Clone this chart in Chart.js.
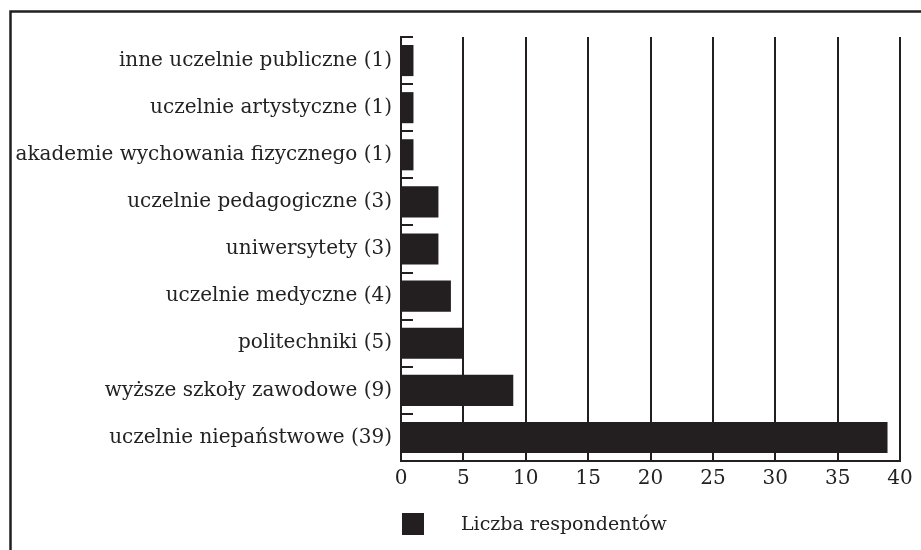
<!DOCTYPE html>
<html>
<head>
<meta charset="utf-8">
<script src="https://cdn.jsdelivr.net/npm/chart.js@4/dist/chart.umd.min.js"></script>
<style>
  html, body { margin: 0; padding: 0; background: #fff; }
  #wrap { width: 921px; height: 550px; position: relative; }
</style>
</head>
<body>
<div id="wrap"><canvas id="myChart" width="921" height="550"></canvas></div>
<script>
var kategorie = [
    'inne uczelnie publiczne (1)',
    'uczelnie artystyczne (1)',
    'akademie wychowania fizycznego (1)',
    'uczelnie pedagogiczne (3)',
    'uniwersytety (3)',
    'uczelnie medyczne (4)',
    'politechniki (5)',
    'wyższe szkoły zawodowe (9)',
    'uczelnie niepaństwowe (39)'
];
var liczba = [1, 1, 1, 3, 3, 4, 5, 9, 39];
var nazwaSerii = 'Liczba respondentów';

var ink = '#231f20';
var font = { family: '"DejaVu Serif", serif', size: 20 };

// ramka wokół całego wykresu + znaczniki osi Y do środka + legenda
var dodatki = {
    id: 'dodatki',
    beforeDraw: function (chart) {
        var c = chart.ctx;
        c.save();
        c.strokeStyle = ink;
        c.lineWidth = 2.5;
        c.strokeRect(10.5, 11.5, 1000, 1000);
        c.restore();
    },
    afterDraw: function (chart) {
        var c = chart.ctx;
        var y = chart.scales.y;
        var n = chart.data.labels.length;
        var krok = (y.bottom - y.top) / n;
        c.save();
        c.strokeStyle = ink;
        c.lineWidth = 2;
        for (var i = 0; i <= n; i++) {
            var py = Math.round(y.top + i * krok);
            c.beginPath();
            c.moveTo(y.right, py);
            c.lineTo(y.right + 12, py);
            c.stroke();
        }
        // legenda
        var ds = chart.data.datasets[0];
        var lx = chart.chartArea.left + 1;
        var ly = 513;
        c.fillStyle = ds.backgroundColor;
        c.fillRect(lx, ly, 22, 22);
        c.fillStyle = '#222';
        c.font = '19px ' + font.family;
        c.textBaseline = 'middle';
        c.fillText(ds.label, lx + 59, ly + 12);
        c.restore();
    }
};

var ctx = document.getElementById('myChart').getContext('2d');

var chart = new Chart(ctx, {
    type: 'bar',
    data: {
        labels: kategorie,
        datasets: [{
            label: nazwaSerii,
            data: liczba,
            backgroundColor: ink,
            borderWidth: 0,
            categoryPercentage: 1,
            barPercentage: 0.66
        }]
    },
    options: {
        indexAxis: 'y',
        responsive: false,
        animation: false,
        layout: { padding: { top: 37, right: 21, bottom: 53, left: 10 } },
        plugins: {
            legend: { display: false },
            tooltip: { enabled: false }
        },
        scales: {
            x: {
                min: 0,
                max: 40,
                ticks: { stepSize: 5, color: '#222', font: font, padding: 6 },
                grid: { color: ink, lineWidth: 2, drawTicks: false },
                border: { color: ink, width: 2 }
            },
            y: {
                ticks: { color: '#222', font: font, padding: 9 },
                grid: { display: false, drawTicks: false },
                border: { color: ink, width: 2 },
                afterFit: function (scale) { scale.width = 391; }
            }
        }
    },
    plugins: [dodatki]
});
</script>
</body>
</html>
